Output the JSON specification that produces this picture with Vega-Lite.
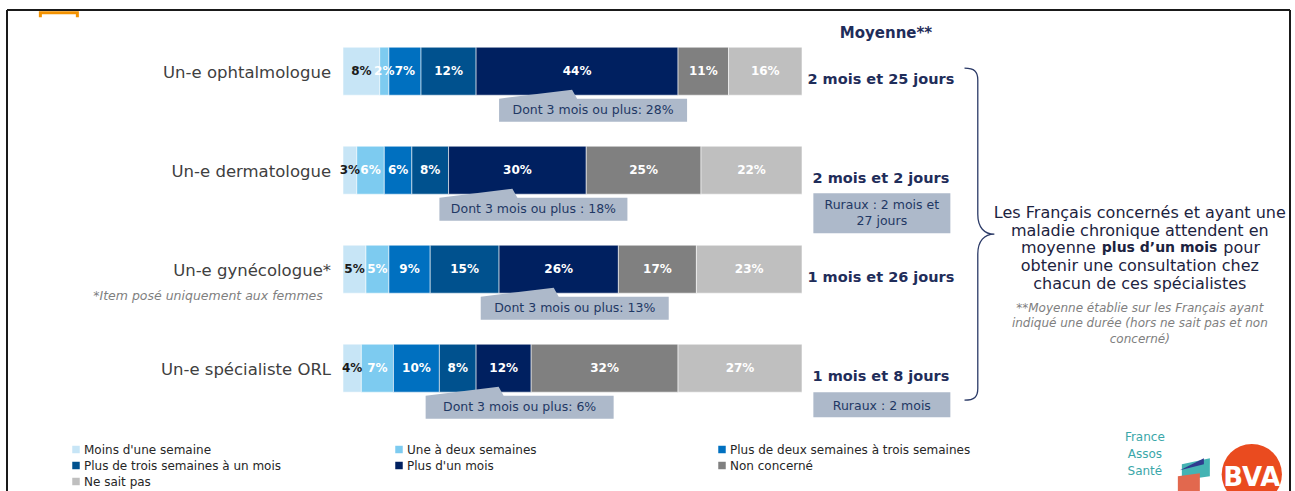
{
  "$schema": "https://vega.github.io/schema/vega-lite/v6.json",
  "width": 1283,
  "height": 481,
  "autosize": "none",
  "padding": {"left": 7, "top": 10, "right": 5, "bottom": 0},
  "background": "white",
  "view": {"stroke": null},
  "config": {"font": "DejaVu Sans", "text": {"font": "DejaVu Sans"}},
  "datasets": {
    "specialists": [
      {"specialist": "Un-e ophtalmologue", "moyenne": "2 mois et 25 jours", "dont": "Dont 3 mois ou plus: 28%"},
      {"specialist": "Un-e dermatologue", "moyenne": "2 mois et 2 jours", "dont": "Dont 3 mois ou plus : 18%", "ruraux": ["Ruraux : 2 mois et", "27 jours"]},
      {"specialist": "Un-e gynécologue*", "moyenne": "1 mois et 26 jours", "dont": "Dont 3 mois ou plus: 13%"},
      {"specialist": "Un-e spécialiste ORL", "moyenne": "1 mois et 8 jours", "dont": "Dont 3 mois ou plus: 6%", "ruraux": ["Ruraux : 2 mois"]}
    ]
  },
  "data": {"values": [
    {"specialist": "Un-e ophtalmologue", "segment": "Moins d'une semaine", "pct": 0.08},
    {"specialist": "Un-e ophtalmologue", "segment": "Une à deux semaines", "pct": 0.02},
    {"specialist": "Un-e ophtalmologue", "segment": "Plus de deux semaines à trois semaines", "pct": 0.07},
    {"specialist": "Un-e ophtalmologue", "segment": "Plus de trois semaines à un mois", "pct": 0.12},
    {"specialist": "Un-e ophtalmologue", "segment": "Plus d'un mois", "pct": 0.44},
    {"specialist": "Un-e ophtalmologue", "segment": "Non concerné", "pct": 0.11},
    {"specialist": "Un-e ophtalmologue", "segment": "Ne sait pas", "pct": 0.16},
    {"specialist": "Un-e dermatologue", "segment": "Moins d'une semaine", "pct": 0.03},
    {"specialist": "Un-e dermatologue", "segment": "Une à deux semaines", "pct": 0.06},
    {"specialist": "Un-e dermatologue", "segment": "Plus de deux semaines à trois semaines", "pct": 0.06},
    {"specialist": "Un-e dermatologue", "segment": "Plus de trois semaines à un mois", "pct": 0.08},
    {"specialist": "Un-e dermatologue", "segment": "Plus d'un mois", "pct": 0.30},
    {"specialist": "Un-e dermatologue", "segment": "Non concerné", "pct": 0.25},
    {"specialist": "Un-e dermatologue", "segment": "Ne sait pas", "pct": 0.22},
    {"specialist": "Un-e gynécologue*", "segment": "Moins d'une semaine", "pct": 0.05},
    {"specialist": "Un-e gynécologue*", "segment": "Une à deux semaines", "pct": 0.05},
    {"specialist": "Un-e gynécologue*", "segment": "Plus de deux semaines à trois semaines", "pct": 0.09},
    {"specialist": "Un-e gynécologue*", "segment": "Plus de trois semaines à un mois", "pct": 0.15},
    {"specialist": "Un-e gynécologue*", "segment": "Plus d'un mois", "pct": 0.26},
    {"specialist": "Un-e gynécologue*", "segment": "Non concerné", "pct": 0.17},
    {"specialist": "Un-e gynécologue*", "segment": "Ne sait pas", "pct": 0.23},
    {"specialist": "Un-e spécialiste ORL", "segment": "Moins d'une semaine", "pct": 0.04},
    {"specialist": "Un-e spécialiste ORL", "segment": "Une à deux semaines", "pct": 0.07},
    {"specialist": "Un-e spécialiste ORL", "segment": "Plus de deux semaines à trois semaines", "pct": 0.10},
    {"specialist": "Un-e spécialiste ORL", "segment": "Plus de trois semaines à un mois", "pct": 0.08},
    {"specialist": "Un-e spécialiste ORL", "segment": "Plus d'un mois", "pct": 0.12},
    {"specialist": "Un-e spécialiste ORL", "segment": "Non concerné", "pct": 0.32},
    {"specialist": "Un-e spécialiste ORL", "segment": "Ne sait pas", "pct": 0.27}
  ]},
  "layer": [
    {
      "transform": [
        {"stack": "pct", "groupby": ["specialist"], "as": ["x0", "x1"]}
      ],
      "encoding": {
        "y": {
          "field": "specialist", "type": "nominal", "axis": null,
          "scale": {
            "domain": ["Un-e ophtalmologue", "Un-e dermatologue", "Un-e gynécologue*", "Un-e spécialiste ORL"],
            "paddingInner": 0.515, "paddingOuter": 0.687, "align": 0.2735, "round": false
          }
        }
      },
      "layer": [
        {
          "mark": {"type": "bar", "stroke": "#ffffff", "strokeWidth": 0.7, "strokeOpacity": 0.8},
          "encoding": {
            "x": {"field": "x0", "type": "quantitative", "axis": null, "scale": {"domain": [-0.732, 2.0632], "nice": false, "zero": false}},
            "x2": {"field": "x1"},
            "color": {
              "field": "segment", "type": "nominal",
              "scale": {
                "domain": ["Moins d'une semaine", "Une à deux semaines", "Plus de deux semaines à trois semaines", "Plus de trois semaines à un mois", "Plus d'un mois", "Non concerné", "Ne sait pas"],
                "range": ["#C7E5F6", "#7DCBF0", "#0070C0", "#00518E", "#002060", "#808080", "#BFBFBF"]
              },
              "legend": {
                "title": null, "orient": "none", "legendX": 63, "legendY": 433.5,
                "direction": "horizontal", "columns": 3, "gridAlign": "all",
                "symbolType": "square", "symbolSize": 56, "symbolStrokeWidth": 0,
                "labelFontSize": 12, "labelFont": "DejaVu Sans", "labelColor": "#262626",
                "columnPadding": 68, "rowPadding": 4, "labelOffset": 2, "labelLimit": 400, "padding": 0
              }
            }
          }
        },
        {
          "mark": {"type": "text", "fontWeight": "bold", "fontSize": 12, "baseline": "middle", "align": "center"},
          "encoding": {
            "x": {"field": "pct", "type": "quantitative", "stack": "zero", "bandPosition": 0.5, "axis": null},
            "order": {"field": "x0", "type": "quantitative"},
            "detail": {"field": "segment"},
            "text": {"field": "pct", "type": "quantitative", "format": ".0%"},
            "color": {"condition": {"test": "datum.segment === \"Moins d'une semaine\"", "value": "#1a1a1a"}, "value": "#ffffff"}
          }
        },
        {
          "mark": {"type": "point", "shape": "M -7.8 -1.15 L -0.5 -2.05 L 0 -1.15 L 11 -1.15 L 11 1.15 L -7.8 1.15 Z", "size": 400, "filled": true, "color": "#ADB9CA", "strokeWidth": 0, "yOffset": 39},
          "encoding": {
            "x": {"field": "pct", "type": "quantitative", "stack": "zero", "bandPosition": 0.5, "axis": null},
            "order": {"field": "x0", "type": "quantitative"},
            "detail": {"field": "segment"},
            "opacity": {"condition": {"test": "datum.segment === \"Plus d'un mois\"", "value": 1}, "value": 0}
          }
        },
        {
          "transform": [
            {"lookup": "specialist", "from": {"data": {"name": "specialists"}, "key": "specialist", "fields": ["dont"]}}
          ],
          "mark": {"type": "text", "fontSize": 12.5, "baseline": "middle", "align": "center", "color": "#1F3864", "dx": 16, "dy": 39},
          "encoding": {
            "x": {"field": "pct", "type": "quantitative", "stack": "zero", "bandPosition": 0.5, "axis": null},
            "order": {"field": "x0", "type": "quantitative"},
            "detail": {"field": "segment"},
            "text": {"field": "dont", "type": "nominal"},
            "opacity": {"condition": {"test": "datum.segment === \"Plus d'un mois\"", "value": 1}, "value": 0}
          }
        }
      ]
    },
    {
      "data": {"name": "specialists"},
      "mark": {"type": "text", "fontSize": 16.5, "align": "right", "baseline": "middle", "color": "#404040", "dy": 2},
      "encoding": {
        "x": {"datum": -0.026, "type": "quantitative"},
        "y": {"field": "specialist", "type": "nominal"},
        "text": {"field": "specialist"}
      }
    },
    {
      "data": {"name": "specialists"},
      "mark": {"type": "text", "fontSize": 14.5, "fontWeight": "bold", "align": "center", "baseline": "middle", "color": "#1F2D5A", "dy": 9},
      "encoding": {
        "x": {"datum": 1.172, "type": "quantitative"},
        "y": {"field": "specialist", "type": "nominal"},
        "text": {"field": "moyenne"}
      }
    },
    {
      "data": {"values": [{"t": "Moyenne**"}]},
      "mark": {"type": "text", "fontSize": 15, "fontWeight": "bold", "align": "center", "baseline": "middle", "color": "#1F2D5A", "dy": -38},
      "encoding": {
        "x": {"datum": 1.183, "type": "quantitative"},
        "y": {"datum": "Un-e ophtalmologue"},
        "text": {"field": "t"}
      }
    },
    {
      "data": {"values": [{"t": "*Item posé uniquement aux femmes"}]},
      "mark": {"type": "text", "fontSize": 12.5, "fontStyle": "italic", "align": "right", "baseline": "middle", "color": "#7F7F7F", "dy": 27},
      "encoding": {
        "x": {"datum": -0.044, "type": "quantitative"},
        "y": {"datum": "Un-e gynécologue*"},
        "text": {"field": "t"}
      }
    },
    {
      "data": {"name": "specialists"},
      "transform": [{"filter": "datum.specialist === 'Un-e dermatologue'"}],
      "encoding": {"y": {"field": "specialist", "type": "nominal"}},
      "layer": [
        {
          "mark": {"type": "point", "shape": "M -6.85 -2 H 6.85 V 2 H -6.85 Z", "size": 400, "filled": true, "color": "#ADB9CA", "opacity": 1, "strokeWidth": 0, "yOffset": 43},
          "encoding": {"x": {"datum": 1.174, "type": "quantitative"}}
        },
        {
          "mark": {"type": "text", "fontSize": 12.5, "align": "center", "baseline": "middle", "color": "#1F3864", "lineHeight": 16, "dy": 35},
          "encoding": {"x": {"datum": 1.174, "type": "quantitative"}, "text": {"field": "ruraux"}}
        }
      ]
    },
    {
      "data": {"name": "specialists"},
      "transform": [{"filter": "datum.specialist === 'Un-e spécialiste ORL'"}],
      "encoding": {"y": {"field": "specialist", "type": "nominal"}},
      "layer": [
        {
          "mark": {"type": "point", "shape": "M -6.85 -1.25 H 6.85 V 1.25 H -6.85 Z", "size": 400, "filled": true, "color": "#ADB9CA", "opacity": 1, "strokeWidth": 0, "yOffset": 36.5},
          "encoding": {"x": {"datum": 1.174, "type": "quantitative"}}
        },
        {
          "mark": {"type": "text", "fontSize": 12.5, "align": "center", "baseline": "middle", "color": "#1F3864", "dy": 37.5},
          "encoding": {"x": {"datum": 1.174, "type": "quantitative"}, "text": {"field": "ruraux"}}
        }
      ]
    },
    {
      "data": {"values": [{"t": "brace"}]},
      "mark": {"type": "point", "shape": "M -0.08 -1 C -0.02 -1 0 -0.98 0 -0.93 L 0 -0.12 C 0 -0.04 0.04 0 0.1 0 C 0.04 0 0 0.04 0 0.12 L 0 0.93 C 0 0.98 -0.02 1 -0.08 1", "size": 110224, "filled": false, "color": "#2B3A67", "strokeWidth": 1.3, "opacity": 1, "yOffset": 64},
      "encoding": {
        "x": {"datum": 1.383, "type": "quantitative"},
        "y": {"datum": "Un-e dermatologue"}
      }
    },
    {
      "data": {"values": [{"t": ["Les Français concernés et ayant une", "maladie chronique attendent en"]}]},
      "mark": {"type": "text", "fontSize": 16, "align": "center", "baseline": "middle", "color": "#1c2340", "lineHeight": 17.7, "dy": 43},
      "encoding": {
        "x": {"datum": 1.736, "type": "quantitative"},
        "y": {"datum": "Un-e dermatologue"},
        "text": {"field": "t"}
      }
    },
    {
      "data": {"values": [{"t": ["obtenir une consultation chez", "chacun de ces spécialistes"]}]},
      "mark": {"type": "text", "fontSize": 16, "align": "center", "baseline": "middle", "color": "#1c2340", "lineHeight": 17.7, "dy": 96},
      "encoding": {
        "x": {"datum": 1.736, "type": "quantitative"},
        "y": {"datum": "Un-e dermatologue"},
        "text": {"field": "t"}
      }
    },
    {
      "data": {"values": [{"t": "moyenne"}]},
      "mark": {"type": "text", "fontSize": 16, "align": "right", "baseline": "middle", "color": "#1c2340", "dy": 78},
      "encoding": {
        "x": {"datum": 1.64, "type": "quantitative"},
        "y": {"datum": "Un-e dermatologue"},
        "text": {"field": "t"}
      }
    },
    {
      "data": {"values": [{"t": "plus d’un mois"}]},
      "mark": {"type": "text", "fontSize": 14, "fontWeight": "bold", "align": "center", "baseline": "middle", "color": "#1c2340", "dy": 78},
      "encoding": {
        "x": {"datum": 1.779, "type": "quantitative"},
        "y": {"datum": "Un-e dermatologue"},
        "text": {"field": "t"}
      }
    },
    {
      "data": {"values": [{"t": "pour"}]},
      "mark": {"type": "text", "fontSize": 16, "align": "left", "baseline": "middle", "color": "#1c2340", "dy": 78},
      "encoding": {
        "x": {"datum": 1.918, "type": "quantitative"},
        "y": {"datum": "Un-e dermatologue"},
        "text": {"field": "t"}
      }
    },
    {
      "data": {"values": [{"t": ["**Moyenne établie sur les Français ayant", "indiqué une durée (hors ne sait pas et non", "concerné)"]}]},
      "mark": {"type": "text", "fontSize": 12, "fontStyle": "italic", "align": "center", "baseline": "middle", "color": "#808080", "lineHeight": 15.5, "dy": 38.7},
      "encoding": {
        "x": {"datum": 1.736, "type": "quantitative"},
        "y": {"datum": "Un-e gynécologue*"},
        "text": {"field": "t"}
      }
    },
    {
      "data": {"values": [{"t": ["France", "Assos", "Santé"]}]},
      "mark": {"type": "text", "fontSize": 12, "align": "center", "baseline": "middle", "color": "#3AA7A9", "lineHeight": 17, "dy": 69},
      "encoding": {
        "x": {"datum": 1.747, "type": "quantitative"},
        "y": {"datum": "Un-e spécialiste ORL"},
        "text": {"field": "t"}
      }
    },
    {
      "data": {"values": [{"t": "teal"}]},
      "mark": {"type": "point", "shape": "M -8 -10 L 20 -16 L 20 2 L -8 6 Z", "size": 4, "filled": true, "color": "#44B3B3", "opacity": 1, "strokeWidth": 0, "yOffset": 106},
      "encoding": {"x": {"datum": 1.845, "type": "quantitative"}, "y": {"datum": "Un-e spécialiste ORL"}}
    },
    {
      "data": {"values": [{"t": "navy"}]},
      "mark": {"type": "point", "shape": "M -10 -4 L 14 -16 L 14 -10 Z", "size": 4, "filled": true, "color": "#2F3B8F", "opacity": 1, "strokeWidth": 0, "yOffset": 106},
      "encoding": {"x": {"datum": 1.845, "type": "quantitative"}, "y": {"datum": "Un-e spécialiste ORL"}}
    },
    {
      "data": {"values": [{"t": "salmon"}]},
      "mark": {"type": "point", "shape": "M -12 2 L 10 -1 L 10 18 L -12 18 Z", "size": 4, "filled": true, "color": "#E2684E", "opacity": 1, "strokeWidth": 0, "yOffset": 106},
      "encoding": {"x": {"datum": 1.845, "type": "quantitative"}, "y": {"datum": "Un-e spécialiste ORL"}}
    },
    {
      "data": {"values": [{"t": "circle"}]},
      "mark": {"type": "point", "shape": "circle", "size": 3632, "filled": true, "color": "#EA4B1F", "opacity": 1, "strokeWidth": 0, "yOffset": 106},
      "encoding": {"x": {"datum": 1.98, "type": "quantitative"}, "y": {"datum": "Un-e spécialiste ORL"}}
    },
    {
      "data": {"values": [{"t": "BVA"}]},
      "mark": {"type": "text", "fontSize": 26, "fontWeight": "bold", "align": "center", "baseline": "middle", "color": "#ffffff", "dy": 110},
      "encoding": {"x": {"datum": 1.98, "type": "quantitative"}, "y": {"datum": "Un-e spécialiste ORL"}, "text": {"field": "t"}}
    },
    {
      "data": {"values": [{"t": "orange"}]},
      "mark": {"type": "point", "shape": "M -20 -3 H 20 V 3 H 17 V 0 H -17 V 3 H -20 Z", "size": 4, "filled": true, "color": "#F39200", "opacity": 1, "strokeWidth": 0, "yOffset": -57},
      "encoding": {"x": {"datum": -0.619, "type": "quantitative"}, "y": {"datum": "Un-e ophtalmologue"}}
    },
    {
      "data": {"values": [{"edge": -0.732}, {"edge": 2.0632}]},
      "mark": {"type": "rule", "color": "#1a1a1a", "strokeWidth": 2},
      "encoding": {"x": {"field": "edge", "type": "quantitative"}}
    },
    {
      "data": {"values": [{"t": "top"}]},
      "mark": {"type": "rule", "color": "#1a1a1a", "strokeWidth": 2, "yOffset": -61.2},
      "encoding": {"y": {"datum": "Un-e ophtalmologue"}}
    }
  ]
}
